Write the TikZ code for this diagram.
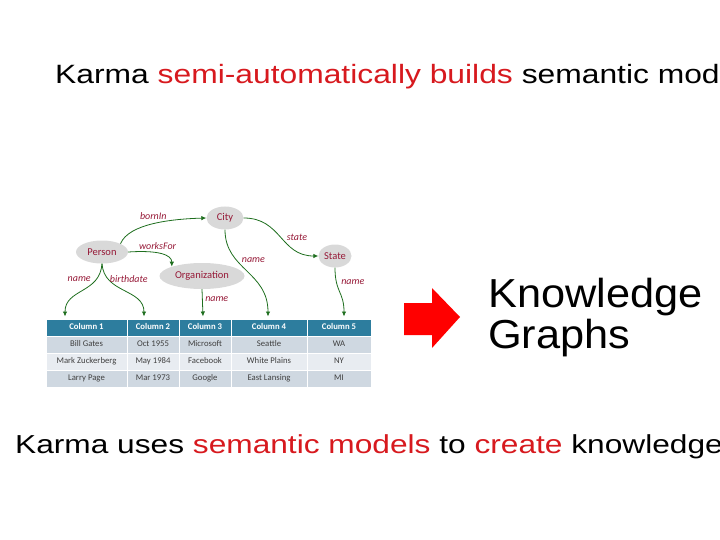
\documentclass[tikz,border=0pt]{standalone}
\usepackage{fontspec}
\setmainfont{Liberation Sans}
\newfontfamily\slidefont[FakeStretch=1.2]{Liberation Sans}
\newfontfamily\widefont[FakeStretch=1.218]{Liberation Sans}
\newfontfamily\bigfont[FakeStretch=1.07]{Liberation Sans}
\newfontfamily\calfont{Carlito}
\usetikzlibrary{arrows.meta,shapes.geometric}

\definecolor{karmared}{RGB}{215,25,30}
\definecolor{labelred}{RGB}{150,25,55}
\definecolor{edgegreen}{RGB}{30,110,30}
\definecolor{headblue}{RGB}{45,125,158}
\definecolor{rowdark}{RGB}{207,216,225}
\definecolor{rowlight}{RGB}{232,236,241}

\begin{document}
\begin{tikzpicture}[x=1pt,y=-1pt,
	class_node/.style={ellipse,fill=black!15,inner sep=0pt,font=\calfont\fontsize{10.5}{12}\selectfont,text=labelred},
	edge_label/.style={font=\calfont\itshape\fontsize{10}{11}\selectfont,text=labelred,inner sep=1.5pt},
	link/.style={draw=edgegreen,line width=0.8pt,-{Latex[length=5pt,width=4.5pt]}},
	head_cell/.style={fill=headblue,draw=white,line width=1pt,minimum height=17pt,inner sep=0pt,text height=6pt,text depth=1.5pt,text=white,font=\calfont\bfseries\fontsize{8.7}{10}\selectfont},
	data_cell/.style={draw=white,line width=1pt,minimum height=17pt,inner sep=0pt,text height=6pt,text depth=1.5pt,text=black!75,font=\calfont\fontsize{8.7}{10}\selectfont}]
	
	\useasboundingbox (0,0) rectangle (720,540);
	\clip (0,0) rectangle (720,540);
	
	% headline texts
	\node[anchor=base west,inner sep=0pt] (top_line) at (55,84)
		{\slidefont\fontsize{26.5}{30}\selectfont Karma \textcolor{karmared}{semi-automatically builds} semantic mod};
	\node[anchor=base west,inner sep=0pt] (bottom_line) at (15,453)
		{\widefont\fontsize{26}{30}\selectfont Karma uses \textcolor{karmared}{semantic models} to \textcolor{karmared}{create} knowledge};
	
	% semantic model
	\node[class_node,minimum width=37pt,minimum height=23pt] (city) at (225,218) {City};
	\node[class_node,minimum width=52pt,minimum height=23pt] (person) at (102,252) {Person};
	\node[class_node,minimum width=85pt,minimum height=26pt] (org) at (202,276) {Organization};
	\node[class_node,minimum width=33pt,minimum height=23pt] (state) at (335,256) {State};
	
	% table
	\foreach \cx/\cw/\ct [count=\i] in {86.5/81/Column 1,153/52/Column 2,205/52/Column 3,269/76/Column 4,339/64/Column 5}
		\node[head_cell,minimum width=\cw pt] (col\i) at (\cx,327.5) {\ct};
	\foreach \ry/\rf/\ca/\cb/\cc/\cd/\ce [count=\r] in {
		344.5/rowdark/Bill Gates/Oct 1955/Microsoft/Seattle/WA,
		361.5/rowlight/Mark Zuckerberg/May 1984/Facebook/White Plains/NY,
		378.5/rowdark/Larry Page/Mar 1973/Google/East Lansing/MI}
	{
		\node[data_cell,fill=\rf,minimum width=81pt] (r\r c1) at (86.5,\ry) {\ca};
		\node[data_cell,fill=\rf,minimum width=52pt] (r\r c2) at (153,\ry) {\cb};
		\node[data_cell,fill=\rf,minimum width=52pt] (r\r c3) at (205,\ry) {\cc};
		\node[data_cell,fill=\rf,minimum width=76pt] (r\r c4) at (269,\ry) {\cd};
		\node[data_cell,fill=\rf,minimum width=64pt] (r\r c5) at (339,\ry) {\ce};
	}
	
	% links
	\draw[link] (person.north east) .. controls +(8,-20) and +(-35,1) .. (city.west)
		node[edge_label,pos=0.5,above=2pt] {bornIn};
	\draw[link] (person.east) .. controls +(30,-2) and +(0,-12) .. (org.north west)
		node[edge_label,pos=0.42,above=2pt] {worksFor};
	\draw[link] (city.east) .. controls +(38,0) and +(-38,0) .. (state.west)
		node[edge_label,pos=0.5,right=4pt] {state};
	\draw[link] (city.south) .. controls +(0,40) and +(0,-45) .. ([xshift=-1pt,yshift=2pt]col4.north)
		node[edge_label,pos=0.33,right=4pt] {name};
	\draw[link] (person.south) .. controls +(-2,30) and +(0,-28) .. ([xshift=-21.5pt,yshift=2pt]col1.north)
		node[edge_label,pos=0.22,left=4pt] {name};
	\draw[link] (person.south) .. controls +(2,30) and +(0,-28) .. ([xshift=-9pt,yshift=2pt]col2.north)
		node[edge_label,pos=0.22,right=0pt] {birthdate};
	\draw[link] (org.south) -- ([xshift=-2pt,yshift=2pt]col3.north)
		node[edge_label,pos=0.35,right=1pt] {name};
	\draw[link] (state.south) .. controls +(0,25) and +(0,-25) .. ([xshift=5pt,yshift=2pt]col5.north)
		node[edge_label,pos=0.25,right=3pt] {name};
	
	% red arrow and result
	\fill[red] (404,303) -- (432,303) -- (432,288) -- (460,317) -- (432,348) -- (432,335) -- (404,335) -- cycle;
	\node[anchor=base west,inner sep=0pt,align=left,font=\bigfont\fontsize{40.5}{41}\selectfont] (kg) at (488,348)
		{Knowledge\\ Graphs};
	
\end{tikzpicture}
\end{document}
